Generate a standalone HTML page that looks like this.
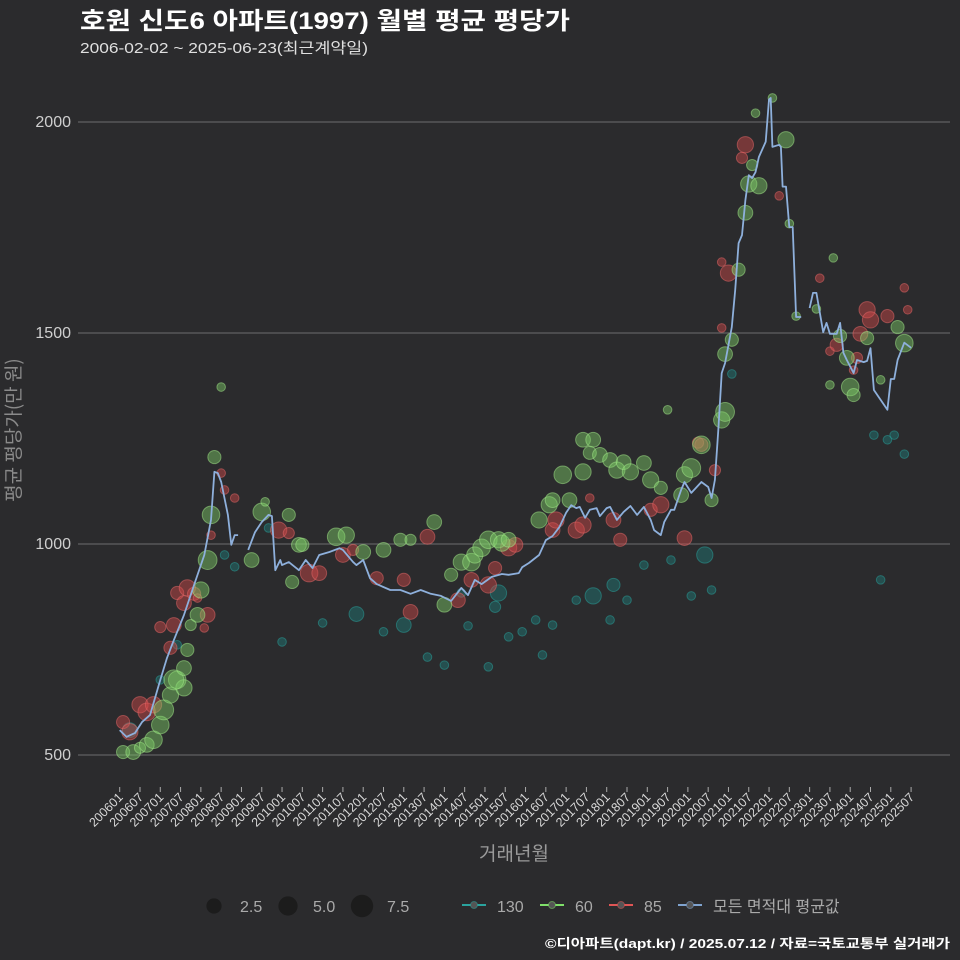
<!DOCTYPE html>
<html><head><meta charset="utf-8">
<style>
html,body{margin:0;padding:0;background:#2b2b2d;}
svg{display:block;font-family:"Liberation Sans","Noto Sans CJK KR",sans-serif;}
</style></head>
<body>
<svg id="chart" width="960" height="960" viewBox="0 0 960 960" xmlns="http://www.w3.org/2000/svg">
<rect width="960" height="960" fill="#2b2b2d"/>
<text x="80" y="29" fill="#ffffff" font-size="24" font-weight="bold" textLength="490" lengthAdjust="spacingAndGlyphs">호원 신도6 아파트(1997) 월별 평균 평당가</text>
<text x="80" y="53" fill="#e0e0e0" font-size="15" textLength="288" lengthAdjust="spacingAndGlyphs">2006-02-02 ~ 2025-06-23(최근계약일)</text>
<g id="grid"></g>
<g id="yaxis"></g>
<g id="xaxis"></g>
<g id="points"></g>
<g id="avgline"></g>
<text transform="translate(20,430) rotate(-90)" text-anchor="middle" fill="#8a8a8a" font-size="19" font-family="Noto Sans CJK KR, sans-serif">평균 평당가(만 원)</text>
<text x="514" y="860" text-anchor="middle" fill="#9a9a9a" font-size="19">거래년월</text>
<g id="legend"></g>
<text x="950" y="948" text-anchor="end" fill="#ffffff" font-size="13" font-weight="bold" textLength="405" lengthAdjust="spacingAndGlyphs">©디아파트(dapt.kr) / 2025.07.12 / 자료=국토교통부 실거래가</text>
</svg>
<script>
// months are index from 2006-01 (0)
const yTicks = [500, 1000, 1500, 2000];
const avgMonths = [0,2,4.5,6.6,9,12,14,16,19,22,25,27,28,29,30,32,33,34,35,null,38,40,42,44,45,46,47.5,48,50,53,55,57,59,62,65,66,69,70,72,74,76,80,83,86,89,92,95,98,101,103,105,107,110,113,115,118,119,121,124,126,128,130,132,133.5,135,136,137.6,139,141,142,144,145,147,149,151,153,155,157,158,160,161,163,164,166,167,169,172,174,175,176,177,178,179,181,182,183,184,185,186,187,188,189,191,192,192.5,193,195,195.5,196,197,198,199,200,201.5,null,204,205,206,208,209,210,212,213,214,215,217,218,220,221,222,223,227,228,229,230,232,234];
const avgValues = [559,543,552,578,595,678,730,772,832,903,974,1057,1171,1168,1147,1069,998,1021,1021,null,986,1028,1052,1069,1066,938,962,950,957,938,962,943,974,981,990,986,957,950,962,919,905,891,891,882,891,882,877,865,896,879,915,905,922,929,927,931,945,955,974,1009,1019,1040,1074,1092,1085,1088,1062,1081,1085,1066,1085,1088,1057,1076,1090,1069,1088,1057,1033,1021,1052,1081,1081,1128,1147,1121,1147,1135,1109,1152,1270,1405,1429,1514,1602,1713,1732,1815,1874,1867,1881,1917,1953,2053,2057,1941,1946,1941,1847,1847,1751,1751,1538,1538,null,1559,1595,1595,1502,1524,1498,1498,1524,1453,1436,1405,1436,1431,1434,1464,1365,1318,1391,1391,1436,1477,1465];

const g60M = [1,4,6,8,10,12,13,15,17,19,16,19,20,21,23,24,26,27,28,30,39,42,43,50,51,53,54,64,67,72,78,83,86,93,96,98,101,104,105,107,109,112,113,115,124,127,128,131,133,137,137,140,139,142,145,147,149,151,155,157,160,162,166,167,169,172,175,178,179,179,181,183,185,186,189,187,188,193,197,198,200,206,211,210,213,215,216,221,225,230,232,217];
const g60V = [507,507,517,524,536,571,607,642,678,659,678,706,749,808,832,891,962,1069,1206,1372,962,1076,1100,1069,910,998,998,1017,1021,981,986,1010,1010,1052,856,927,957,957,974,991,1010,1010,1002,1010,1057,1093,1104,1164,1104,1171,1247,1247,1216,1211,1199,1175,1194,1171,1192,1152,1133,1318,1116,1164,1180,1235,1104,1294,1313,1450,1484,1650,1785,1853,1849,1898,2021,2057,1958,1759,1540,1557,1678,1377,1493,1441,1372,1488,1389,1514,1476,1353];
const g60N = [3,4,2,4,6,6,8,5,6,5,8,4,3,2,4,5,7,6,3,1,4,6,1,3,3,4,3,6,5,4,4,3,2,4,4,3,5,6,5,6,6,5,5,4,5,5,4,6,4,5,4,4,3,4,4,5,4,5,4,5,3,1,4,5,7,6,3,5,7,4,3,3,4,5,5,2,1,1,5,1,1,1,1,1,3,4,6,3,1,3,6,3];

const g85M = [1,3,6,8,10,12,15,16,17,19,20,22,23,25,26,27,30,31,34,47,50,56,59,66,69,76,86,91,84,100,104,109,111,115,117,128,129,135,137,139,146,148,157,160,167,171,172,176,178,178,180,185,184,195,207,210,212,219,221,222,227,232,233,217,218];
const g85V = [578,555,619,602,619,803,754,808,884,860,896,882,872,801,832,1021,1168,1128,1109,1033,1026,931,931,974,986,919,839,1017,915,867,915,903,943,991,998,1033,1057,1033,1045,1109,1057,1010,1081,1093,1014,1240,1235,1175,1512,1668,1642,1946,1915,1825,1630,1457,1472,1498,1555,1531,1540,1607,1555,1412,1441];
const g85N = [3,5,5,6,5,2,3,4,3,4,5,3,1,1,4,1,1,1,1,5,2,6,4,4,2,3,4,4,3,4,4,5,3,5,4,4,5,5,5,1,4,3,3,5,4,2,3,2,1,1,5,5,2,1,1,1,3,4,5,5,3,1,1,1,2];

const g130M = [3,12,17,31,34,44,48,60,70,78,84,91,96,101,103,109,111,112,115,119,123,125,128,135,140,146,145,150,155,163,169,173,175,181,225,227,229,223,232];
const g130V = [559,678,761,974,946,1038,768,813,834,792,808,732,713,884,806,709,851,884,780,792,820,737,808,867,877,903,820,867,950,962,877,974,891,1403,915,1247,1258,1258,1213];
const g130N = [4,1,1,1,1,1,1,1,4,1,4,1,1,1,1,1,2,5,1,1,1,1,1,1,5,3,1,1,1,1,1,5,1,1,1,1,1,1,1];

const legendSizes = [2.5, 5.0, 7.5];
const legendSeries = ['130','60','85','모든 면적대 평균값'];

const NS = 'http://www.w3.org/2000/svg';
function xS(m){ return 119.7 + m*3.382; }
function yS(v){ return 755 - (v-500)*211/500; }
function rS(n){ return 3.1*Math.sqrt(n) + 1.2; }
function mk(tag, attrs, parent){ const e=document.createElementNS(NS,tag); for(const k in attrs) e.setAttribute(k, attrs[k]); parent.appendChild(e); return e; }

const grid=document.getElementById('grid'), yax=document.getElementById('yaxis'), xax=document.getElementById('xaxis');
yTicks.forEach(v=>{
  const l=mk('line',{x1:78,x2:950,y1:yS(v),y2:yS(v),stroke:'#6e6e6e','stroke-width':1},grid);
  
  
  const t=mk('text',{x:71,y:yS(v)+5,'text-anchor':'end',fill:'#cfcfcf','font-size':16},yax);
  t.textContent=v;
  
  
});
const xTickLabels=[];
for(let y=2006;y<=2025;y++){ xTickLabels.push(y+'01'); xTickLabels.push(y+'07'); }
xTickLabels.forEach((lab,i)=>{
  const x=xS(i*6);
  const tk=mk('line',{x1:x,x2:x,y1:787,y2:792,stroke:'#aaaaaa','stroke-width':1},xax);
  
  
  const t=mk('text',{x:x+4,y:798,'text-anchor':'end',fill:'#d8d8d8','font-size':12.5,transform:'rotate(-45 '+(x+4)+' 798)'},xax);
  t.textContent=lab;
  
  
});

const pts=document.getElementById('points');
function drawSeries(M,V,N,fill,stroke,name){
  for(let i=0;i<M.length;i++){
    const c=mk('circle',{cx:xS(M[i]),cy:yS(V[i]),r:rS(N[i]),fill:fill,'fill-opacity':0.45,stroke:stroke,'stroke-opacity':0.5,'stroke-width':1},pts);
    
    
  }
}
drawSeries(g130M,g130V,g130N,'#1f7d7a','#2aa39e','130');
drawSeries(g85M,g85V,g85N,'#d24a4a','#e86a6a','85');
drawSeries(g60M,g60V,g60N,'#7fcf68','#a6ec8c','60');

const al=document.getElementById('avgline');
let seg=[];
function flush(){ if(seg.length>1){ const p=mk('polyline',{points:seg.join(' '),fill:'none',stroke:'#8eb0dc','stroke-width':1.8,'stroke-linejoin':'round'},al);   } seg=[]; }
for(let i=0;i<avgMonths.length;i++){
  if(avgMonths[i]===null){ flush(); continue; }
  seg.push(xS(avgMonths[i]).toFixed(1)+','+yS(avgValues[i]).toFixed(1));
}
flush();

const lg=document.getElementById('legend');
const sizeX=[214,288,362], sizeTX=[240,313,387];
legendSizes.forEach((s,i)=>{
  const c=mk('circle',{cx:sizeX[i],cy:906,r:rS(s)+1.5,fill:'#1c1c1c'},lg);
  
  
  const t=mk('text',{x:sizeTX[i],y:912,fill:'#aaaaaa','font-size':16},lg);
  t.textContent=s.toFixed(1);
  
  
});
const serCol=['#2aa39e','#7fe06a','#e05555','#7fa3cf'], serX=[462,540,609,678];
legendSeries.forEach((s,i)=>{
  const l=mk('line',{x1:serX[i],x2:serX[i]+24,y1:905,y2:905,stroke:serCol[i],'stroke-width':2},lg);
  
  
  const c=mk('circle',{cx:serX[i]+12,cy:905,r:3.5,fill:'#555',stroke:serCol[i],'stroke-opacity':0.5},lg);
  
  
  const t=mk('text',{x:serX[i]+35,y:912,fill:'#aaaaaa','font-size':16},lg);
  t.textContent=s;
  
  
});
</script>
</body></html>
